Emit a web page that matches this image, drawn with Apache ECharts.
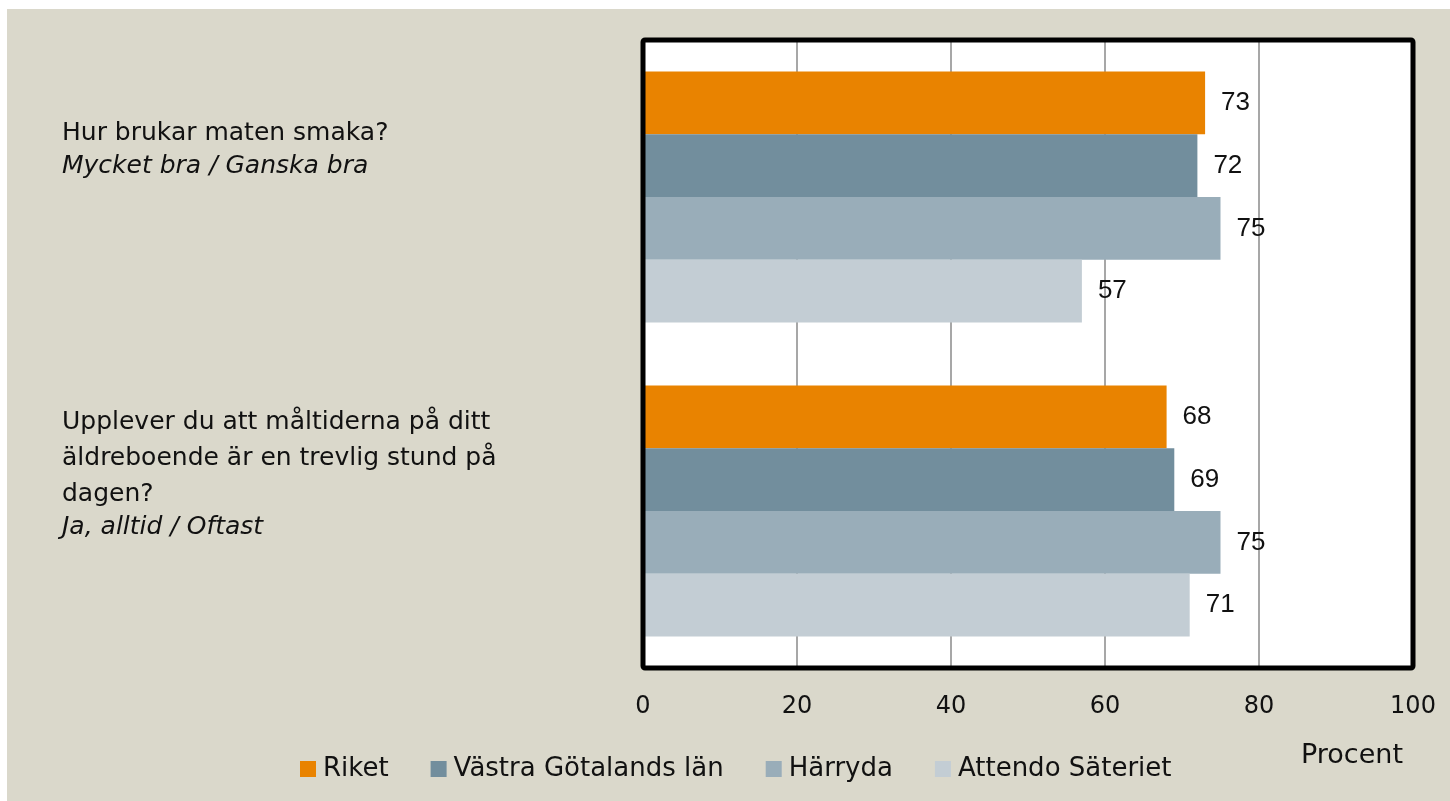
<!DOCTYPE html>
<html>
<head>
<meta charset="utf-8">
<script src="https://cdn.jsdelivr.net/npm/echarts@6/dist/echarts.min.js"></script>
<style>
  body { margin: 0; background: #fff; }
  #main { position: absolute; left: 7px; top: 9px; width: 1443px; height: 792px; }
</style>
</head>
<body>
<div id="main"></div>
<script>
// frågor och svarsalternativ
const questions = [
  "Hur brukar maten smaka?",
  "Upplever du att måltiderna på ditt\näldreboende är en trevlig stund på\ndagen?"
];
const answers = ["Mycket bra / Ganska bra", "Ja, alltid / Oftast"];

const seriesNames = ["Riket", "Västra Götalands län", "Härryda", "Attendo Säteriet"];
const riket = [73, 68];
const vgl = [72, 69];
const harryda = [75, 75];
const attendo = [57, 71];
const xTicks = [0, 20, 40, 60, 80, 100];

const colors = ["#E98300", "#728E9D", "#99ADB9", "#C3CDD4"];
const font = "DejaVu Sans";
// hur mycket etiketten lyfts över kategorins mitt (per fråga)
const labelLift = [98, 76];

const chartDom = document.getElementById("main");
const myChart = echarts.init(chartDom);

const makeSeries = (name, data, color) => ({
  name: name,
  type: "bar",
  data: data,
  barGap: "0%",
  barCategoryGap: "20%",
  itemStyle: { color: color },
  label: {
    show: true,
    position: "right",
    distance: 16,
    color: "#111",
    fontFamily: "Liberation Sans",
    fontSize: 26
  }
});

const option = {
  backgroundColor: "#DAD8CB",
  animation: false,
  color: colors,
  grid: {
    left: 636, top: 31, width: 770, height: 628,
    outerBoundsMode: "none",
    show: true, backgroundColor: "#fff", borderWidth: 0
  },
  legend: {
    left: 288, top: 742,
    itemWidth: 16, itemHeight: 16, itemGap: 42,
    icon: "rect",
    textStyle: { fontFamily: font, fontSize: 26, color: "#111", padding: [0, 0, 0, 2] },
    data: seriesNames
  },
  xAxis: {
    type: "value",
    min: xTicks[0], max: xTicks[xTicks.length - 1], interval: 20,
    axisLine: { show: false },
    axisTick: { show: false },
    splitLine: { lineStyle: { color: "#8a8a8a", width: 1.5 } },
    axisLabel: { margin: 27, fontFamily: font, fontSize: 24, color: "#111" },
    name: "Procent",
    nameLocation: "end",
    nameGap: -61,
    nameTextStyle: {
      fontFamily: font, fontSize: 27, color: "#111",
      align: "center", verticalAlign: "top", padding: [74, 0, 0, 0]
    }
  },
  yAxis: {
    type: "category",
    inverse: true,
    data: questions.map((q, i) => ({
      value: q,
      textStyle: { align: "left", padding: [0, 0, labelLift[i], 0] }
    })),
    axisLine: { show: false },
    axisTick: { show: false },
    axisLabel: {
      align: "left",
      margin: 581,
      formatter: (v, i) => "{q|" + v + "}\n{a|" + answers[i] + "}",
      rich: {
        q: { fontFamily: font, fontSize: 25, color: "#111", lineHeight: 36, align: "left" },
        a: { fontFamily: font, fontSize: 25, fontStyle: "italic", color: "#111", lineHeight: 30, align: "left" }
      }
    }
  },
  series: [
    makeSeries(seriesNames[0], riket, colors[0]),
    makeSeries(seriesNames[1], vgl, colors[1]),
    makeSeries(seriesNames[2], harryda, colors[2]),
    makeSeries(seriesNames[3], attendo, colors[3])
  ]
};

option && myChart.setOption(option);

// svart ram ovanpå staplarna
const rect = myChart.getModel().getComponent("grid").coordinateSystem.getRect();
myChart.setOption({
  graphic: [{
    type: "rect",
    z: 100,
    shape: { x: rect.x, y: rect.y, width: rect.width, height: rect.height, r: 2 },
    style: { fill: null, stroke: "#000", lineWidth: 5 }
  }]
});
</script>
</body>
</html>
